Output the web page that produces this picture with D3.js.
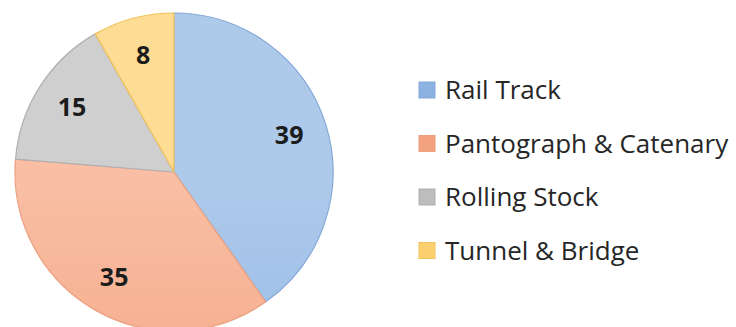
<!DOCTYPE html>
<html>
<head>
<meta charset="utf-8">
<script src="https://cdn.jsdelivr.net/npm/d3@7"></script>
<style>
  html, body { margin: 0; padding: 0; background: #ffffff; }
  svg { display: block; }
</style>
</head>
<body>
<svg id="chart" width="736" height="327"></svg>
<script>
// Fault counts by subsystem
const categories = ["Rail Track", "Pantograph & Catenary", "Rolling Stock", "Tunnel & Bridge"];
const values = [39, 35, 15, 8];
const colorsLight = ["#aecaeb", "#f9bea4", "#cfcfcf", "#ffdc94"];
const colorsDark  = ["#8cb2e2", "#f3a27e", "#bdbdbd", "#fbd06f"];
const strokes     = ["#84a8d6", "#eba07f", "#b0b0b0", "#efc35a"];

const svg = d3.select("#chart");
const cx = 174, cy = 172, radius = 159;

// vertical shading for each slice colour
const defs = svg.append("defs");
categories.forEach((c, i) => {
  const g = defs.append("linearGradient")
    .attr("id", "grad" + i)
    .attr("gradientUnits", "userSpaceOnUse")
    .attr("x1", 0).attr("y1", cy - radius)
    .attr("x2", 0).attr("y2", cy + radius);
  g.append("stop").attr("offset", "0%").attr("stop-color", colorsLight[i]);
  g.append("stop").attr("offset", "100%").attr("stop-color", colorsDark[i]);
});

const pie = d3.pie().sort(null).value(d => d.value);
const data = categories.map((c, i) => ({ name: c, value: values[i], idx: i }));
const arcs = pie(data);

const arc = d3.arc().innerRadius(0).outerRadius(radius);
const labelArc = d3.arc().innerRadius(radius * 0.76).outerRadius(radius * 0.76);

const g = svg.append("g").attr("transform", `translate(${cx},${cy})`);

g.selectAll("path.slice")
  .data(arcs)
  .join("path")
  .attr("class", "slice")
  .attr("d", arc)
  .attr("fill", d => `url(#grad${d.data.idx})`)
  .attr("stroke", d => strokes[d.data.idx])
  .attr("stroke-width", 1.2)
  .attr("stroke-linejoin", "round");

g.selectAll("text.val")
  .data(arcs)
  .join("text")
  .attr("class", "val")
  .attr("transform", d => `translate(${labelArc.centroid(d)})`)
  .attr("text-anchor", "middle")
  .attr("dy", "0.36em")
  .attr("font-family", "'Open Sans', Lato, sans-serif")
  .attr("font-weight", "bold")
  .attr("font-size", 25)
  .attr("fill", "#1c1c1c")
  .text(d => d.data.value);

// legend
const legendX = 419, legendY0 = 90, legendStep = 53.5, box = 16;
const legend = svg.append("g");
const rows = legend.selectAll("g.row")
  .data(data)
  .join("g")
  .attr("class", "row")
  .attr("transform", (d, i) => `translate(${legendX},${legendY0 + i * legendStep})`);

rows.append("rect")
  .attr("x", 0).attr("y", -box / 2)
  .attr("width", box).attr("height", box)
  .attr("fill", d => colorsDark[d.idx])
  .attr("stroke", d => strokes[d.idx])
  .attr("stroke-width", 1);

rows.append("text")
  .attr("x", 26)
  .attr("dy", "0.36em")
  .attr("font-family", "'Open Sans', Lato, sans-serif")
  .attr("font-size", 26)
  .attr("fill", "#262626")
  .text(d => d.name);
</script>
</body>
</html>
